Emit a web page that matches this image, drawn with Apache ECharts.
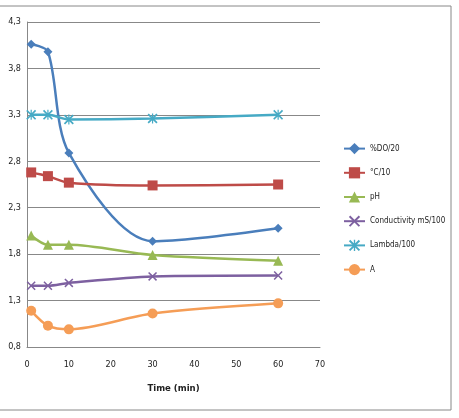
<!DOCTYPE html>
<html>
<head>
<meta charset="utf-8">
<script src="https://cdn.jsdelivr.net/npm/echarts@6/dist/echarts.min.js"></script>
<style>
  html, body { margin: 0; padding: 0; background: #fff; }
  #container { width: 459px; height: 418px; }
</style>
</head>
<body>
<div id="container"></div>
<script>
// time points (min)
var times = [1, 5, 10, 30, 60];
var seriesNames = ['%DO/20', '°C/10', 'pH', 'Conductivity mS/100', 'Lambda/100', 'A'];
var doValues = [4.06, 3.98, 2.89, 1.94, 2.08];
var tempValues = [2.68, 2.64, 2.57, 2.54, 2.55];
var phValues = [2.00, 1.90, 1.90, 1.79, 1.73];
var condValues = [1.46, 1.46, 1.49, 1.56, 1.57];
var lambdaValues = [3.30, 3.30, 3.25, 3.26, 3.30];
var aValues = [1.19, 1.03, 0.99, 1.16, 1.27];
var xTicks = [0, 10, 20, 30, 40, 50, 60, 70];
var yTicks = [0.8, 1.3, 1.8, 2.3, 2.8, 3.3, 3.8, 4.3];

var font = "'DejaVu Sans Condensed', 'Liberation Sans Narrow', sans-serif";
var colors = ['#4a7ebb', '#be4b48', '#98b954', '#7d60a0', '#46aac5', '#f59d56'];
var xMark = 'path://M0,1.2L1.2,0L5,3.8L8.8,0L10,1.2L6.2,5L10,8.8L8.8,10L5,6.2L1.2,10L0,8.8L3.8,5Z';
var starMark = 'path://M0,1.2L1.2,0L5,3.8L8.8,0L10,1.2L6.2,5L10,8.8L8.8,10L5,6.2L1.2,10L0,8.8L3.8,5Z' +
  'M4.4,0L5.6,0L5.6,10L4.4,10Z';
var symbols = ['diamond', 'rect', 'triangle', xMark, starMark, 'circle'];
var sizes = [9, 10, 10, 9, 10, 10];
var allValues = [doValues, tempValues, phValues, condValues, lambdaValues, aValues];

function pairs(vals) {
  return times.map(function (t, i) { return [t, vals[i]]; });
}

var chart = echarts.init(document.getElementById('container'));
var option = {
  animation: false,
  color: colors,
  graphic: [{
    type: 'rect',
    shape: { x: -2, y: 6, width: 453, height: 404 },
    style: { fill: 'none', stroke: '#888', lineWidth: 1 },
    silent: true
  }],
  grid: { left: 27, right: 139, top: 22, bottom: 71 },
  legend: {
    orient: 'vertical',
    left: 338,
    top: 138,
    itemWidth: 21,
    itemHeight: 14,
    itemGap: 13,
    textStyle: { fontFamily: font, fontSize: 8, color: '#222' },
    data: seriesNames
  },
  xAxis: {
    type: 'value',
    min: 0, max: 70, interval: 10,
    name: 'Time (min)',
    nameLocation: 'middle',
    nameGap: 37,
    nameTextStyle: { fontFamily: font, fontSize: 9.5, fontWeight: 'bold', color: '#222' },
    axisLine: { lineStyle: { color: '#888', width: 1 } },
    axisTick: { show: false },
    splitLine: { show: false },
    axisLabel: {
      fontFamily: font, fontSize: 9, color: '#222', margin: 13,
      formatter: function (v) { return xTicks.indexOf(v) >= 0 ? String(v) : ''; }
    }
  },
  yAxis: {
    type: 'value',
    min: 0.8, max: 4.3, interval: 0.5,
    axisLine: { show: true, lineStyle: { color: '#888', width: 1 } },
    axisTick: { show: false },
    splitLine: { lineStyle: { color: '#888', width: 1 } },
    axisLabel: {
      fontFamily: font, fontSize: 9, color: '#222', margin: 6,
      formatter: function (v) { return v.toFixed(1).replace('.', ','); }
    }
  },
  series: seriesNames.map(function (name, i) {
    return {
      name: name,
      type: 'line',
      smooth: 0.3,
      data: pairs(allValues[i]),
      symbol: symbols[i],
      symbolSize: sizes[i],
      lineStyle: { width: 2.5, color: colors[i] },
      itemStyle: { color: colors[i] }
    };
  })
};
chart.setOption(option);
</script>
</body>
</html>
